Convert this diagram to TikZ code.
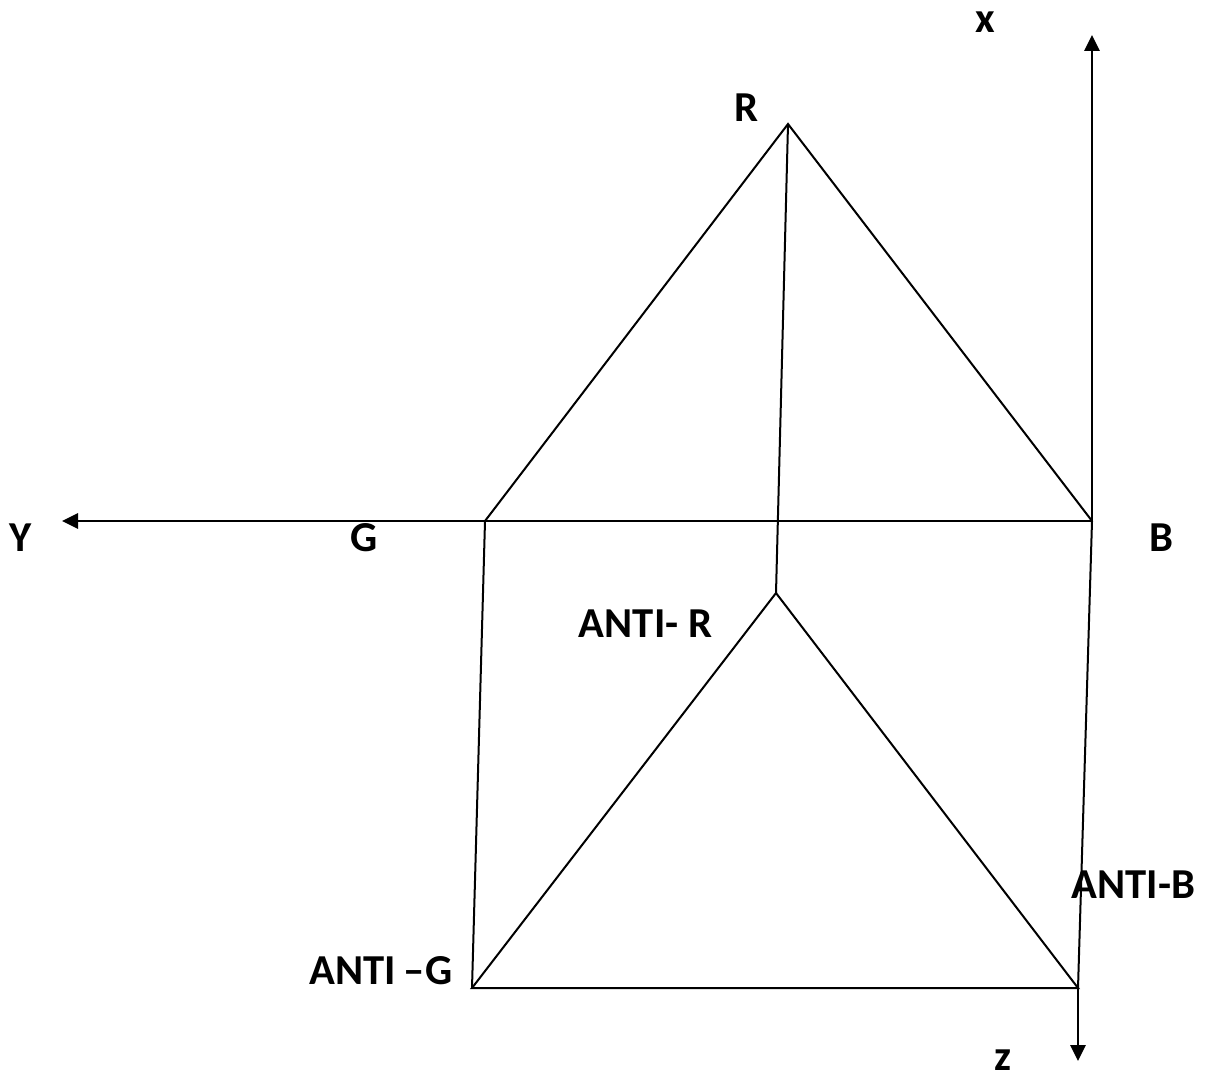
\documentclass[tikz,border=0pt]{standalone}
\usepackage{fontspec}
\setmainfont{Carlito}
\usetikzlibrary{arrows.meta}
\tikzset{
  edge/.style={draw=black,line width=1.5pt,line join=miter},
  axis/.style={edge,-{Triangle[length=12pt,width=11.5pt]}},
  lbl/.style={font=\fontsize{32}{35}\selectfont\bfseries,inner sep=0pt,text=black}
}
\begin{document}
\begin{tikzpicture}[x=0.75pt,y=-0.75pt]
\path[use as bounding box,fill=white] (0,0) rectangle (1205,1073);
\coordinate (R) at (788,124);
\coordinate (G) at (485,521);
\coordinate (B) at (1092,521);
\coordinate (AR) at (776,593);
\coordinate (AG) at (472,988);
\coordinate (AB) at (1078,988);
\coordinate (X) at (1092,35);
\coordinate (Y) at (62,521);
\coordinate (Z) at (1078,1061);
\draw[edge] (G) -- (R) -- (B);
\draw[edge] (R) -- (AR);
\draw[edge] (G) -- (AG);
\draw[edge] (B) -- (AB);
\draw[edge] (AG) -- (AR) -- (AB) -- cycle;
\draw[axis] (B) -- (X);
\draw[axis] (B) -- (Y);
\draw[axis] (AB) -- (Z);
\node[lbl] (lx) at (985,22) {x};
\node[lbl] (lR) at (746,108) {R};
\node[lbl] (lY) at (21,538) {Y};
\node[lbl] (lG) at (364,538) {G};
\node[lbl] (lB) at (1161,538) {B};
\node[lbl] (lAR) at (645.5,624) {ANTI- R};
\node[lbl] (lAB) at (1133.5,885) {ANTI-B};
\node[lbl] (lAG) at (381,971) {ANTI\hspace{0.18em}–G};
\node[lbl] (lz) at (1003,1060) {z};
\end{tikzpicture}
\end{document}
